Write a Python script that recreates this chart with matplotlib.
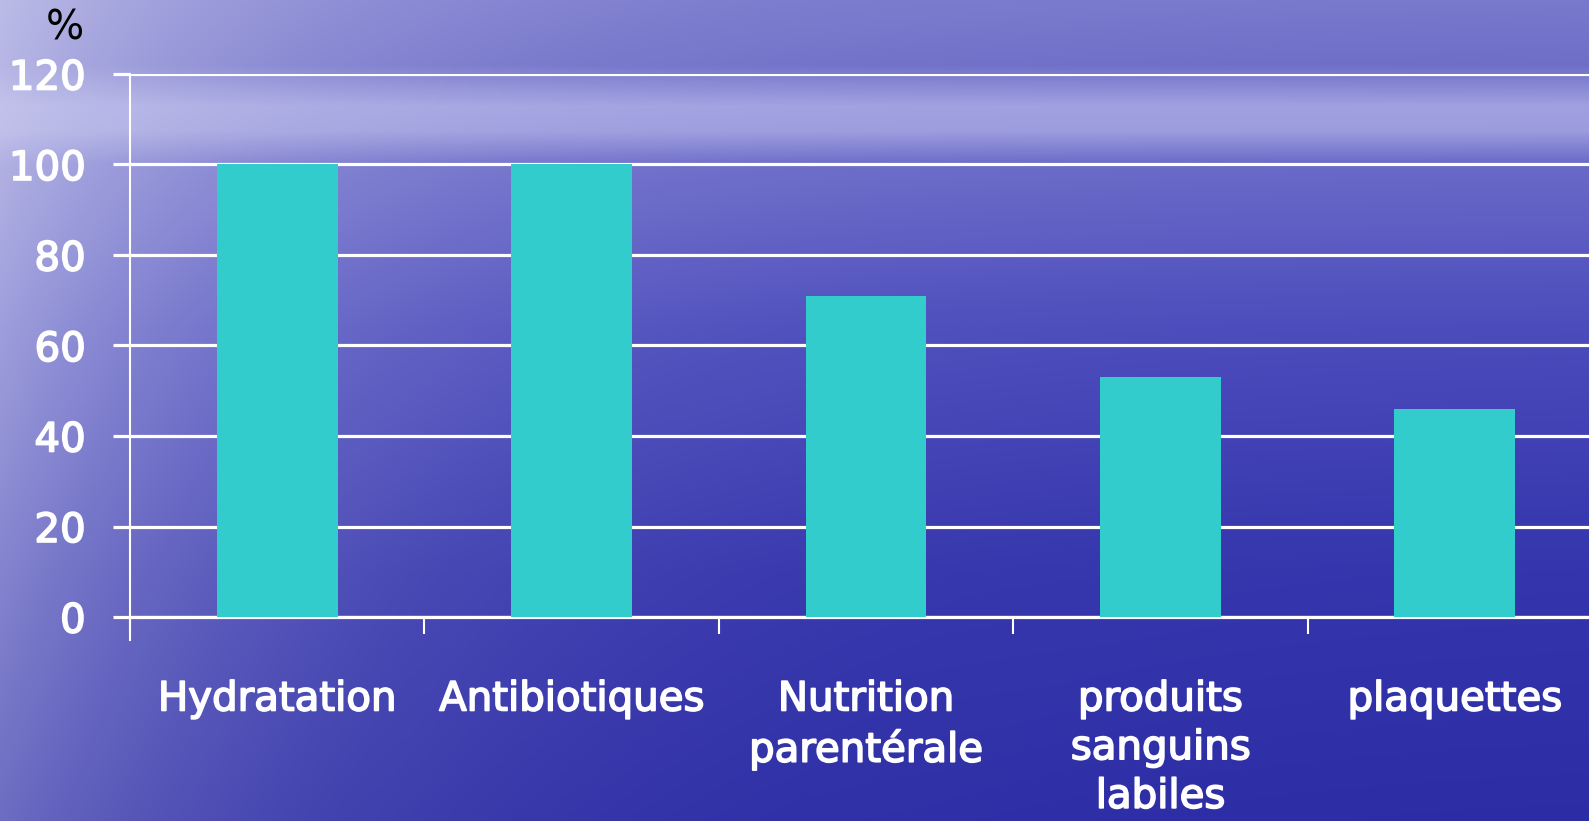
import numpy as np
from matplotlib import pyplot as plt
import matplotlib.patheffects as pe

# datos del grafico
categorias = ["Hydratation", "Antibiotiques", "Nutrition\nparentérale",
              "produits\nsanguins\nlabiles", "plaquettes"]
valores = [100, 100, 71, 53, 46]
yticks = [0, 20, 40, 60, 80, 100, 120]

W, H = 1589, 821
fig = plt.figure(figsize=(W / 100, H / 100), dpi=100)

# fondo tipo mar (degradado azul)
yy = np.linspace(0, 1, H)[:, None]
xx = np.linspace(0, 1, W)[None, :]
filas = [0.0, 0.08, 0.13, 0.16, 0.2, 0.4, 0.7, 1.0]
r_c = [120, 110, 160, 155, 105, 75, 52, 44]
g_c = [120, 110, 160, 155, 105, 75, 52, 44]
b_c = [205, 200, 225, 222, 200, 188, 172, 165]
r = np.interp(yy, filas, r_c)
g = np.interp(yy, filas, g_c)
b = np.interp(yy, filas, b_c)
claro = np.exp(-xx / 0.2) * (1 - 0.5 * yy)  # lado izquierdo mas claro
r = r + (205 - r) * claro * 0.8
g = g + (205 - g) * claro * 0.8
b = b + (238 - b) * claro * 0.8
fondo = np.dstack([r, g, b]) / 255.0
bg = fig.add_axes([0, 0, 1, 1], zorder=-10)
bg.imshow(np.clip(fondo, 0, 1), aspect="auto", extent=[0, 1, 0, 1], origin="upper")
bg.axis("off")

grueso = [pe.withStroke(linewidth=1.2, foreground="white")]

ax = fig.add_axes([130 / W, 1 - 617 / H, 1472 / W, 543 / H])
ax.patch.set_alpha(0)
x = np.arange(len(categorias))
ax.bar(x, valores, width=0.41, color="#33CCCC", zorder=3)
ax.set_xlim(-0.5, len(categorias) - 0.5)
ax.set_ylim(0, 120)
ax.set_yticks(yticks)
ax.set_yticklabels([str(t) for t in yticks])
ax.yaxis.grid(True, color="white", linewidth=2.3, zorder=1)
ax.set_axisbelow(True)

ax.set_xticks(x)
ax.set_xticklabels(categorias, linespacing=1.28, va="top")
ax.set_xticks(np.arange(-0.5, len(categorias)), minor=True)
ax.tick_params(axis="x", which="major", length=0, pad=45, colors="white", labelsize=29)
ax.tick_params(axis="x", which="minor", length=12, width=1.5, color="white")
ax.tick_params(axis="y", length=12, width=2.3, color="white", pad=20, labelsize=29,
               labelcolor="white")
for t in ax.get_xticklabels() + ax.get_yticklabels():
    t.set_path_effects(grueso)

for lado in ["top", "right"]:
    ax.spines[lado].set_visible(False)
ax.spines["left"].set_color("white")
ax.spines["left"].set_linewidth(1.5)
ax.spines["left"].set_bounds(-5, 120)
ax.spines["bottom"].set_color("white")
ax.spines["bottom"].set_linewidth(2.3)
ax.spines["left"].set_zorder(4)

fig.text(65 / W, 1 - 28 / H, "%", color="black", fontsize=29, ha="center", va="center")

fig.savefig("out.png", dpi=100)
